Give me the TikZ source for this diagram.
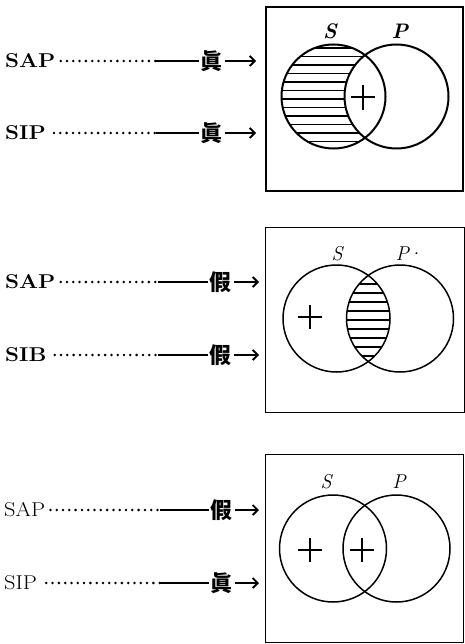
\documentclass[tikz,border=0pt]{standalone}
\usepackage{fontspec}
\usetikzlibrary{arrows.meta}
\newfontfamily\cjk{Noto Sans CJK TC}
\newcommand{\wideit}[1]{\scalebox{1.12}[1]{#1}}
\begin{document}
\begin{tikzpicture}[x=1pt,y=-1pt,
  lab/.style={font=\fontsize{20}{20}\selectfont\bfseries, anchor=west, inner sep=0pt},
  labr/.style={font=\fontsize{20}{20}\selectfont, anchor=west, inner sep=0pt},
  tv/.style={font=\fontsize{22}{22}\selectfont\cjk\bfseries, inner sep=0pt},
  dotline/.style={line width=2.8pt, line cap=round, dash pattern=on 0pt off 6.3pt},
  rule/.style={line width=1.6pt},
  arr/.style={-{Straight Barb[length=5pt,width=10pt]}, line width=1.9pt},
  frame/.style={draw, line width=1.3pt, minimum width=#1, anchor=north west, inner sep=0pt},
  venn/.style={line width=1.5pt},
  hatch/.style={line width=1.1pt},
  setlab/.style={font=\fontsize{20}{20}\selectfont\itshape, inner sep=0pt}
]
\useasboundingbox (0,0) rectangle (464,644);

% ---------- panel 1 ----------
\node[frame=197pt, minimum height=184pt, line width=2pt] (box1) at (265,6) {};
\node[lab] (sap1) at (5,61) {\wideit{SAP}};
\node[lab] (sip1) at (5,133) {\wideit{SIP}};
\node[tv] (t1a) at (211,61) {眞};
\node[tv] (t1b) at (211,133) {眞};
\coordinate (d1a) at (156,61);
\coordinate (d1b) at (156,133);
\coordinate (e1a) at (256,61);
\coordinate (e1b) at (256,133);
\draw[dotline] ([xshift=5pt]sap1.east) -- (d1a);
\draw[dotline] ([xshift=8pt]sip1.east) -- (d1b);
\draw[rule] (d1a) -- ([xshift=-1pt]t1a.west);
\draw[rule] (d1b) -- ([xshift=-1pt]t1b.west);
\draw[arr] ([xshift=3pt]t1a.east) -- (e1a);
\draw[arr] ([xshift=3pt]t1b.east) -- (e1b);
\begin{scope}
  \clip (333.5,96.5) circle (52);
  \foreach \y in {48,56.5,...,150} \draw[hatch] (275,\y) -- (395,\y);
\end{scope}
\fill[white] (396.5,96.5) circle (52);
\draw[line width=2pt] (333.5,96.5) circle (52);
\draw[line width=2pt] (396.5,96.5) circle (52);
\draw[line width=1.4pt] (363,85) -- (363,110) (351,97) -- (375,97);
\node[setlab, font=\fontsize{21}{21}\selectfont\bfseries\itshape] (s1) at (330,31) {S};
\node[setlab, font=\fontsize{21}{21}\selectfont\bfseries\itshape] (p1) at (400,31) {P};

% ---------- panel 2 ----------
\node[frame=199pt, minimum height=185pt] (box2) at (265,227) {};
\node[lab] (sap2) at (5,282) {\wideit{SAP}};
\node[lab] (sib2) at (5,355) {\wideit{SIB}};
\node[tv] (t2a) at (220,282) {假};
\node[tv] (t2b) at (220,355) {假};
\coordinate (d2a) at (158,282);
\coordinate (d2b) at (158,355);
\coordinate (e2a) at (259,282);
\coordinate (e2b) at (259,355);
\draw[dotline] ([xshift=5pt]sap2.east) -- (d2a);
\draw[dotline] ([xshift=8pt]sib2.east) -- (d2b);
\draw[rule] (d2a) -- ([xshift=-1pt]t2a.west);
\draw[rule] (d2b) -- ([xshift=-1pt]t2b.west);
\draw[arr] ([xshift=3pt]t2a.east) -- (e2a);
\draw[arr] ([xshift=3pt]t2b.east) -- (e2b);
\begin{scope}
  \clip (336.5,318.5) circle (53.5);
  \clip (400,318.5) circle (53.5);
  \foreach \y in {266,275,...,372} \draw[hatch] (340,\y) -- (400,\y);
\end{scope}
\draw[venn] (336.5,318.5) circle (53.5);
\draw[venn] (400,318.5) circle (53.5);
\draw[line width=1.4pt] (310,305) -- (310,329) (298,317) -- (322,317);
\node[setlab] (s2) at (337,254) {S};
\node[setlab] (p2) at (409,254) {P\kern-1.5pt\textperiodcentered};

% ---------- panel 3 ----------
\node[frame=198pt, minimum height=188pt] (box3) at (265,454) {};
\node[labr] (sap3) at (4,510) {\wideit{SAP}};
\node[labr] (sip3) at (4,583) {\wideit{SIP}};
\node[tv] (t3a) at (221,510) {假};
\node[tv] (t3b) at (221,583) {眞};
\coordinate (d3a) at (160,510);
\coordinate (d3b) at (160,583);
\coordinate (e3a) at (259,510);
\coordinate (e3b) at (259,583);
\draw[dotline] ([xshift=5pt]sap3.east) -- (d3a);
\draw[dotline] ([xshift=9pt]sip3.east) -- (d3b);
\draw[rule] (d3a) -- ([xshift=-1pt]t3a.west);
\draw[rule] (d3b) -- ([xshift=-1pt]t3b.west);
\draw[arr] ([xshift=3pt]t3a.east) -- (e3a);
\draw[arr] ([xshift=3pt]t3b.east) -- (e3b);
\draw[venn] (333,548.5) circle (53.5);
\draw[venn] (396.5,548.5) circle (53.5);
\draw[line width=1.4pt] (310,538) -- (310,562) (298,550) -- (322,550);
\draw[line width=1.4pt] (362,538) -- (362,562) (350,550) -- (374,550);
\node[setlab] (s3) at (326,482) {S};
\node[setlab] (p3) at (399,482) {P};
\end{tikzpicture}
\end{document}
